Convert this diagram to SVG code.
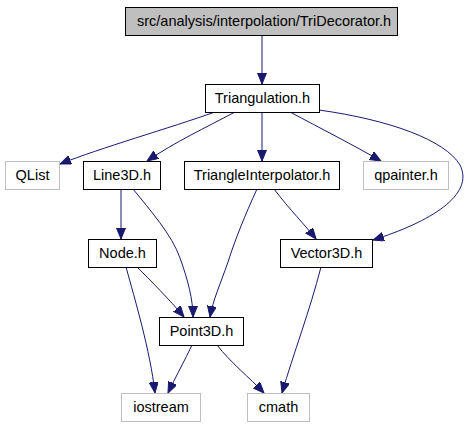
<svg xmlns="http://www.w3.org/2000/svg" width="465" height="427" viewBox="0 0 465 427">
<style>
.n rect{fill:#fff;stroke:#000;stroke-width:1}
.g rect{fill:#fff;stroke:#bfbfbf;stroke-width:1}
.top rect{fill:#bfbfbf;stroke:#000;stroke-width:1}
text{font-family:"Liberation Sans",Arial,sans-serif;font-size:14.5px;fill:#000;text-anchor:middle}
#edges path{fill:none;stroke:#191970;stroke-width:1;marker-end:url(#arr)}
</style>
<defs>
<marker id="arr" markerUnits="userSpaceOnUse" markerWidth="12" markerHeight="10" refX="11" refY="4.5" orient="auto">
<path d="M0,0 L11,4.5 L0,9 z" fill="#191970" stroke="#191970" stroke-width="1"/>
</marker>
</defs>
<rect width="465" height="427" fill="#fff"/>
<g id="edges">
<path d="M262,35 L262,84"/>
<path d="M215,112 C170,128 100,148 60,164"/>
<path d="M235,112 C205,128 175,142 147,161"/>
<path d="M262,112 L262,161"/>
<path d="M290,112 C320,128 355,146 381,161"/>
<path d="M319,110 C390,120 445,140 460,165 C475,195 430,222 373,240"/>
<path d="M121,189 L121,239"/>
<path d="M133,189 C150,210 172,235 180,258 C188,280 193,300 193,317"/>
<path d="M257,189 C245,215 235,240 228,262 C220,285 213,300 210,317"/>
<path d="M274,189 C290,210 305,225 316,239"/>
<path d="M137,267 C150,280 170,300 184,317"/>
<path d="M126,267 C135,300 150,350 155,393"/>
<path d="M192,345 C185,360 175,378 168,393"/>
<path d="M217,345 C230,362 250,378 264,393"/>
<path d="M321,267 C310,310 293,355 282,393"/>
</g>
<g id="TriDecorator" class="top"><rect x="125.5" y="7.5" width="272" height="28"/><text x="137" y="26" style="text-anchor:start">src/analysis/interpolation/TriDecorator.h</text></g>
<g id="Triangulation" class="n"><rect x="205.5" y="84.5" width="114" height="28"/><text x="262.5" y="103">Triangulation.h</text></g>
<g id="QList" class="g"><rect x="5.5" y="161.5" width="54" height="28"/><text x="32.5" y="180">QList</text></g>
<g id="Line3D" class="n"><rect x="83.5" y="161.5" width="77" height="28"/><text x="122" y="180">Line3D.h</text></g>
<g id="TriangleInterpolator" class="n"><rect x="184.5" y="161.5" width="155" height="28"/><text x="262" y="180">TriangleInterpolator.h</text></g>
<g id="qpainter" class="g"><rect x="363.5" y="161.5" width="85" height="28"/><text x="406" y="180">qpainter.h</text></g>
<g id="Node" class="n"><rect x="88.5" y="239.5" width="68" height="28"/><text x="122.5" y="258">Node.h</text></g>
<g id="Vector3D" class="n"><rect x="280.5" y="239.5" width="92" height="28"/><text x="326.5" y="258">Vector3D.h</text></g>
<g id="Point3D" class="n"><rect x="159.5" y="317.5" width="84" height="28"/><text x="201.5" y="336">Point3D.h</text></g>
<g id="iostream" class="g"><rect x="121.5" y="393.5" width="79" height="28"/><text x="161" y="412">iostream</text></g>
<g id="cmath" class="g"><rect x="247.5" y="393.5" width="62" height="28"/><text x="278.5" y="412">cmath</text></g>
</svg>
